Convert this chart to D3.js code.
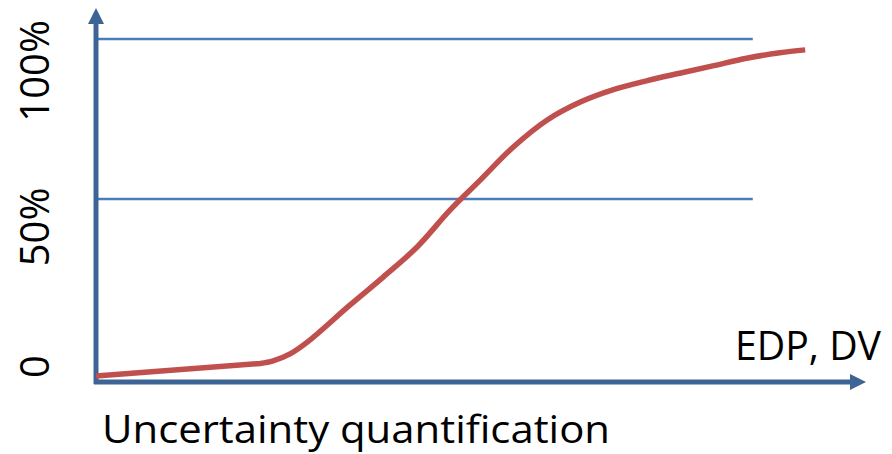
<!DOCTYPE html>
<html>
<head>
<meta charset="utf-8">
<script src="https://cdn.jsdelivr.net/npm/d3@7"></script>
<style>
  html, body { margin: 0; padding: 0; background: #fff; }
  svg { display: block; }
  text { font-family: "Open Sans", "DejaVu Sans", sans-serif; fill: #000; }
</style>
</head>
<body>
<svg id="chart" width="892" height="454"></svg>
<script>
// ---- data ----
const curveX = [0, 21.3, 23.0, 25.2, 27.4, 33, 37.3, 41.7, 46, 49.9, 54.2, 58.6, 62.9, 67.1, 71.6, 75.8, 80.1, 84.5, 88.8, 92.1];
const curveY = [-5.3, -1.4, -0.6, 1.6, 5.2, 16.9, 25.6, 35, 46.6, 55.9, 66.25, 74.7, 80.3, 84.1, 87, 89.3, 91.6, 94, 95.7, 96.6];
const kinkIndex = 1;        // straight segment before this point, smooth after
const refLevels = [50, 100];
const refLineEnd = 85.3;
const tickValues = [0, 50, 100];
const tickLabels = ["0", "50%", "100%"];
const xAxisLabel = "EDP, DV";
const chartTitle = "Uncertainty quantification";
const yAxisOrigin = -7.2;   // value at which the horizontal axis sits

// ---- scales ----
const svg = d3.select("#chart");
const x = d3.scaleLinear().domain([0, 100]).range([96, 866]);
const y = d3.scaleLinear().domain([0, 100]).range([359, 39]);
const labelY = d3.scaleLinear().domain([0, 100]).range([355, 20]);

const axisColor = "#3c6494";
const refColor = "#4a7ebb";
const curveColor = "#c0504d";

// reference lines
svg.append("g").selectAll("line").data(refLevels).join("line")
  .attr("x1", x(0) + 2).attr("x2", x(refLineEnd))
  .attr("y1", d => y(d)).attr("y2", d => y(d))
  .attr("stroke", refColor).attr("stroke-width", 2.6);

// axes
const x0 = x(0), yBase = y(yAxisOrigin);
const yTop = y(100) - 15;
const xArrowTip = x(100);
svg.append("line")
  .attr("x1", x0).attr("x2", x0).attr("y1", yBase + 2).attr("y2", yTop)
  .attr("stroke", axisColor).attr("stroke-width", 5);
svg.append("path")
  .attr("d", `M${x0 - 8},${yTop} L${x0 + 8},${yTop} L${x0},${yTop - 16} Z`)
  .attr("fill", axisColor);
svg.append("line")
  .attr("x1", x0 - 2).attr("x2", xArrowTip - 16).attr("y1", yBase).attr("y2", yBase)
  .attr("stroke", axisColor).attr("stroke-width", 5);
svg.append("path")
  .attr("d", `M${xArrowTip - 16},${yBase - 8} L${xArrowTip - 16},${yBase + 8} L${xArrowTip},${yBase} Z`)
  .attr("fill", axisColor);

// curve: straight lead-in, then smooth S-curve
const pts = curveX.map((d, i) => [d, curveY[i]]);
const straight = d3.line().x(d => x(d[0])).y(d => y(d[1]))(pts.slice(0, kinkIndex + 1));
const smooth = d3.line().x(d => x(d[0])).y(d => y(d[1]))
  .curve(d3.curveCatmullRom.alpha(0.5))(pts.slice(kinkIndex));
svg.append("path")
  .attr("d", straight + smooth.replace(/^M/, "L"))
  .attr("fill", "none")
  .attr("stroke", curveColor)
  .attr("stroke-width", 5.5)
  .attr("stroke-linejoin", "round");

// y tick labels (rotated)
svg.append("g").selectAll("text").data(tickValues).join("text")
  .attr("transform", d => `translate(49,${labelY(d)}) rotate(-90)`)
  .attr("text-anchor", "end")
  .attr("font-size", 40)
  .text((d, i) => tickLabels[i]);

// axis label
svg.append("text")
  .attr("x", 735).attr("y", 360)
  .attr("font-size", 40)
  .attr("textLength", 146).attr("lengthAdjust", "spacingAndGlyphs")
  .text(xAxisLabel);

// bottom title
svg.append("text")
  .attr("x", 102).attr("y", 443)
  .attr("font-size", 38)
  .attr("textLength", 508).attr("lengthAdjust", "spacingAndGlyphs")
  .text(chartTitle);
</script>
</body>
</html>
